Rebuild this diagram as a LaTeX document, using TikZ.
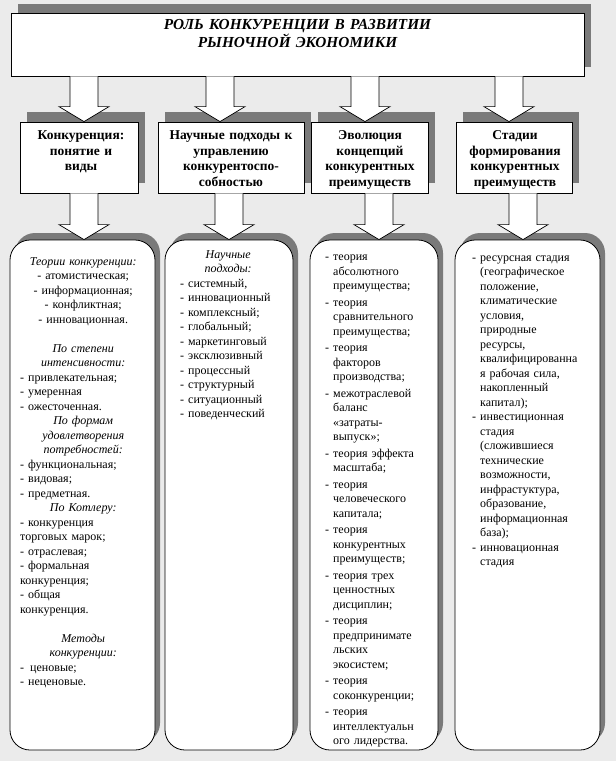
\documentclass[tikz,border=0pt]{standalone}
\usepackage{fontspec}
\setmainfont{Liberation Serif}
\usepackage{tikz}
\usetikzlibrary{calc,shadows}
\definecolor{pagebg}{RGB}{235,235,235}
\definecolor{shadegray}{RGB}{122,122,122}
\tikzset{
  titlebox/.style = {draw, fill=white, line width=0.8pt, minimum width=573pt, minimum height=63pt,
                     drop shadow={shadow xshift=7pt,shadow yshift=9pt,fill=shadegray,opacity=1}},
  headbox/.style  = {draw, fill=white, line width=0.8pt, minimum height=71pt,
                     drop shadow={shadow xshift=7pt,shadow yshift=10pt,fill=shadegray,opacity=1}},
  bodybox/.style  = {draw, fill=white, line width=0.8pt, rounded corners=20pt, minimum height=510pt,
                     drop shadow={shadow xshift=5pt,shadow yshift=7pt,fill=shadegray,opacity=1}},
  titletext/.style = {font=\fontsize{15.3}{18}\selectfont\bfseries\itshape, text width=440pt,
                      align=center, inner sep=0pt, anchor=base},
  headtext/.style = {font=\fontsize{13.5}{15.7}\selectfont\bfseries, align=center, inner sep=0pt, anchor=base},
  bodytext/.style = {font=\fontsize{12}{14.5}\selectfont, align=left, inner sep=0pt, anchor=base west},
  blockarr/.style = {draw=black, fill=white, line width=0.7pt}
}
\newcommand{\blockarrow}[2]{%
  \draw[blockarr] let \p1 = (#1), \p2 = (#2) in
    (\x1-14pt,\y1) -- (\x1-14pt,\y2+15pt) -- (\x1-25pt,\y2+15pt) -- (\x1,\y2)
    -- (\x1+25pt,\y2+15pt) -- (\x1+14pt,\y2+15pt) -- (\x1+14pt,\y1);}
\newcommand{\entry}[1]{\hangindent=8pt\hangafter=1\makebox[8pt][l]{-}#1\par}

\begin{document}
\begin{tikzpicture}[x=1pt,y=-1pt]
  \path[use as bounding box, fill=pagebg] (0,0) rectangle (616,761);

  \node[titlebox] (title) at (297.5,44.5) {};
  \node[headbox, minimum width=118pt] (h1) at (79,157.5) {};
  \node[headbox, minimum width=146pt] (h2) at (231,157.5) {};
  \node[headbox, minimum width=117pt] (h3) at (369.5,157.5) {};
  \node[headbox, minimum width=116pt] (h4) at (514,157.5) {};
  \node[bodybox, minimum width=145pt] (c1) at (82.5,495) {};
  \node[bodybox, minimum width=128pt] (c2) at (229,495) {};
  \node[bodybox, minimum width=128pt] (c3) at (374,495) {};
  \node[bodybox, minimum width=145pt] (c4) at (527.5,495) {};

  \blockarrow{84,0 |- title.south}{h1.north}
  \blockarrow{220,0 |- title.south}{h2.north}
  \blockarrow{365,0 |- title.south}{h3.north}
  \blockarrow{509,0 |- title.south}{h4.north}
  \blockarrow{84,0 |- h1.south}{c1.north}
  \blockarrow{229,0 |- h2.south}{c2.north}
  \blockarrow{379,0 |- h3.south}{c3.north}
  \blockarrow{523,0 |- h4.south}{c4.north}

  \node[titletext] (titlelabel) at (297.5,29.5) {РОЛЬ КОНКУРЕНЦИИ В РАЗВИТИИ\\РЫНОЧНОЙ ЭКОНОМИКИ};

  \node[headtext, text width=112pt] (h1label) at (81,139.5) {Конкуренция:\\понятие и\\виды};
  \node[headtext, text width=142pt] (h2label) at (231,139.5) {Научные подходы к\\управлению\\конкурентоспо-\\собностью};
  \node[headtext, text width=112pt] (h3label) at (370,139.5) {Эволюция\\концепций\\конкурентных\\преимуществ};
  \node[headtext, text width=112pt] (h4label) at (515,139.5) {Стадии\\формирования\\конкурентных\\преимуществ};

  \node[bodytext, text width=126pt] (c1text) at (20,265) {%
    {\centering\itshape Теории конкуренции:\par}
    {\centering - атомистическая;\\ - информационная;\\ - конфликтная;\\ - инновационная.\par}
    \vspace{14.5pt}
    {\centering\itshape По степени\\ интенсивности:\par}
    - привлекательная;\\ - умеренная\\ - ожесточенная.\par
    {\centering\itshape По формам\\ удовлетворения\\ потребностей:\par}
    - функциональная;\\ - видовая;\\ - предметная.\par
    {\centering\itshape По Котлеру:\par}
    - конкуренция\\ торговых марок;\\ - отраслевая;\\ - формальная\\ конкуренция;\\ - общая\\ конкуренция.\par
    \vspace{14.5pt}
    {\centering\itshape Методы\\ конкуренции:\par}
    -\, ценовые;\\ - неценовые.};

  \node[bodytext, text width=96pt] (c2text) at (180,258) {%
    {\centering\itshape Научные\\ подходы:\par}
    \entry{системный,}
    \entry{инновационный}
    \entry{комплексный;}
    \entry{глобальный;}
    \entry{маркетинговый}
    \entry{эксклюзивный}
    \entry{процессный}
    \entry{структурный}
    \entry{ситуационный}
    \entry{поведенческий}};

  \node[bodytext, text width=110pt] (c3text) at (325,260.5) {%
    \setlength{\parskip}{2pt}%
    \entry{теория\newline абсолютного\newline преимущества;}
    \entry{теория\newline сравнительного\newline преимущества;}
    \entry{теория\newline факторов\newline производства;}
    \entry{межотраслевой\newline баланс\newline «затраты-\newline выпуск»;}
    \entry{теория эффекта\newline масштаба;}
    \entry{теория\newline человеческого\newline капитала;}
    \entry{теория\newline конкурентных\newline преимуществ;}
    \entry{теория трех\newline ценностных\newline дисциплин;}
    \entry{теория\newline предпринимате\newline льских\newline экосистем;}
    \entry{теория\newline соконкуренции;}
    \entry{теория\newline интеллектуальн\newline ого лидерства.}};

  \node[bodytext, text width=125pt] (c4text) at (472,261) {%
    \entry{ресурсная стадия\newline (географическое\newline положение,\newline климатические\newline условия,\newline природные\newline ресурсы,\newline квалифицированна\newline я рабочая сила,\newline накопленный\newline капитал);}
    \entry{инвестиционная\newline стадия\newline (сложившиеся\newline технические\newline возможности,\newline инфрастуктура,\newline образование,\newline информационная\newline база);}
    \entry{инновационная\newline стадия}};
\end{tikzpicture}
\end{document}
